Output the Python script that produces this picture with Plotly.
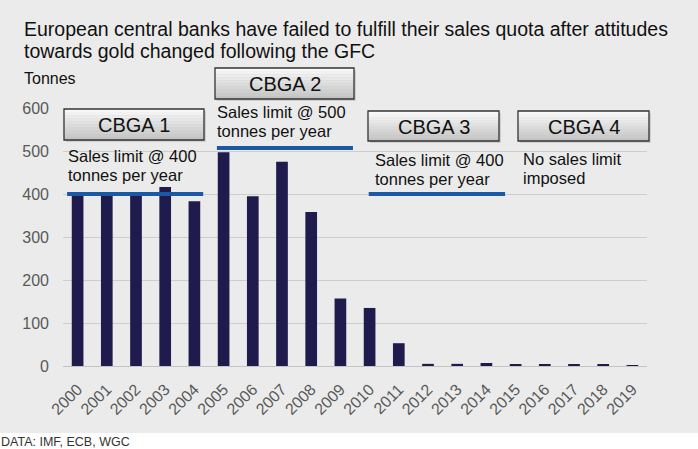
import plotly.graph_objects as go

# ---- data ----
years = list(range(2000, 2020))
sales_tonnes = [398, 403, 396, 416, 383, 497, 395, 475, 358, 157,
                135, 53, 5, 5, 7, 4, 3, 4, 4, 2]
y_ticks = [0, 100, 200, 300, 400, 500, 600]

agreements = ["CBGA 1", "CBGA 2", "CBGA 3", "CBGA 4"]
limit_text = [["Sales limit @ 400", "tonnes per year"],
              ["Sales limit @ 500", "tonnes per year"],
              ["Sales limit @ 400", "tonnes per year"],
              ["No sales limit", "imposed"]]
limit_values = [400, 507, 400]
limit_start = [1999.64, 2004.77, 2009.97]
limit_end = [2004.3, 2009.43, 2014.64]

title_lines = ["European central banks have failed to fulfill their sales quota after attitudes",
               "towards gold changed following the GFC"]
y_title = "Tonnes"
source = "DATA: IMF, ECB, WGC"

# ---- layout geometry (pixels) ----
W, H = 698, 449
L, R, T, B = 63, 51, 108, 83
PW, PH = W - L - R, H - T - B


def xp(px):
    return (px - L) / PW


def yp(py):
    return (H - B - py) / PH


FONT = "Liberation Sans, Arial, sans-serif"
BG = "#ebebeb"

fig = go.Figure()
fig.add_trace(go.Bar(x=years, y=sales_tonnes, width=0.4,
                     marker=dict(color="#201b4d", line=dict(width=0)),
                     hoverinfo="x+y"))

for v, s, e in zip(limit_values, limit_start, limit_end):
    fig.add_trace(go.Scatter(x=[s, e], y=[v, v], mode="lines",
                             line=dict(color="#1b58a6", width=4),
                             hoverinfo="skip"))

shapes = []
# white footer strip
shapes.append(dict(type="rect", xref="paper", yref="paper",
                   x0=xp(0), x1=xp(W), y0=yp(H), y1=yp(433),
                   fillcolor="white", line=dict(width=0), layer="below"))

# boxes (pixel positions)
boxes = [(64, 204, 109, 140), (215, 354, 68, 99),
         (368, 499, 111, 141), (518, 649, 111, 141)]
nb = 10
c_top = (248, 248, 248)
c_bot = (196, 196, 196)
annotations = []
for (x0, x1, y0, y1), name in zip(boxes, agreements):
    shapes.append(dict(type="rect", xref="paper", yref="paper",
                       x0=xp(x0 + 2), x1=xp(x1 + 2), y0=yp(y1 + 2), y1=yp(y0 + 2),
                       fillcolor="rgba(0,0,0,0.12)", line=dict(width=0)))
    for i in range(nb):
        f = i / (nb - 1)
        col = tuple(int(round(c_top[k] + (c_bot[k] - c_top[k]) * f)) for k in range(3))
        ya = y0 + (y1 - y0) * i / nb
        yb = y0 + (y1 - y0) * (i + 1) / nb
        shapes.append(dict(type="rect", xref="paper", yref="paper",
                           x0=xp(x0), x1=xp(x1), y0=yp(yb), y1=yp(ya),
                           fillcolor="rgb(%d,%d,%d)" % col, line=dict(width=0)))
    shapes.append(dict(type="rect", xref="paper", yref="paper",
                       x0=xp(x0), x1=xp(x1), y0=yp(y1), y1=yp(y0),
                       fillcolor="rgba(0,0,0,0)", line=dict(color="#333333", width=1.3)))
    annotations.append(dict(text=name, xref="paper", yref="paper",
                            x=xp((x0 + x1) / 2), y=yp((y0 + y1) / 2 + 0.5),
                            xanchor="center", yanchor="middle", showarrow=False,
                            font=dict(family=FONT, size=20, color="#111111")))


def add_text(txt, px, py, size, color="#111111", anchor="left"):
    annotations.append(dict(text=txt, xref="paper", yref="paper",
                            x=xp(px), y=yp(py), xanchor=anchor, yanchor="middle",
                            align="left", showarrow=False,
                            font=dict(family=FONT, size=size, color=color)))


# limit descriptions (left px, centers of the two lines)
desc_pos = [(66, 156, 175), (215, 112, 131), (373, 159.5, 178.5), (521, 159, 178)]
for (px, p1, p2), lines in zip(desc_pos, limit_text):
    add_text(lines[0], px, p1, 16.5)
    add_text(lines[1], px, p2, 16.5)

add_text(title_lines[0], 22, 29, 19.5)
add_text(title_lines[1], 22, 51, 19.5)
add_text(y_title, 22, 78, 16)
add_text(source, -1, 442, 12.5, color="#333333")

fig.update_layout(
    width=W, height=H,
    margin=dict(l=L, r=R, t=T, b=B, pad=0),
    paper_bgcolor=BG, plot_bgcolor=BG,
    showlegend=False,
    bargap=0.6,
    shapes=shapes,
    annotations=annotations,
    xaxis=dict(range=[1999.5, 2019.5], tickmode="array", tickvals=years,
               ticktext=[str(y) for y in years], tickangle=-45,
               showgrid=False, zeroline=False, showline=False, ticks="",
               ticklabelstandoff=10,
               tickfont=dict(family=FONT, size=16, color="#595959")),
    yaxis=dict(range=[0, 600], tickmode="array", tickvals=y_ticks,
               showgrid=True, gridcolor="#cdcdcd", gridwidth=1,
               zeroline=True, zerolinecolor="#c4c4c4", zerolinewidth=1,
               showline=False, ticks="", ticklabelstandoff=13,
               tickfont=dict(family=FONT, size=16, color="#595959")),
)

fig.write_html("out.html", config={"displayModeBar": False},
               post_script="document.body.style.margin='0px';")
